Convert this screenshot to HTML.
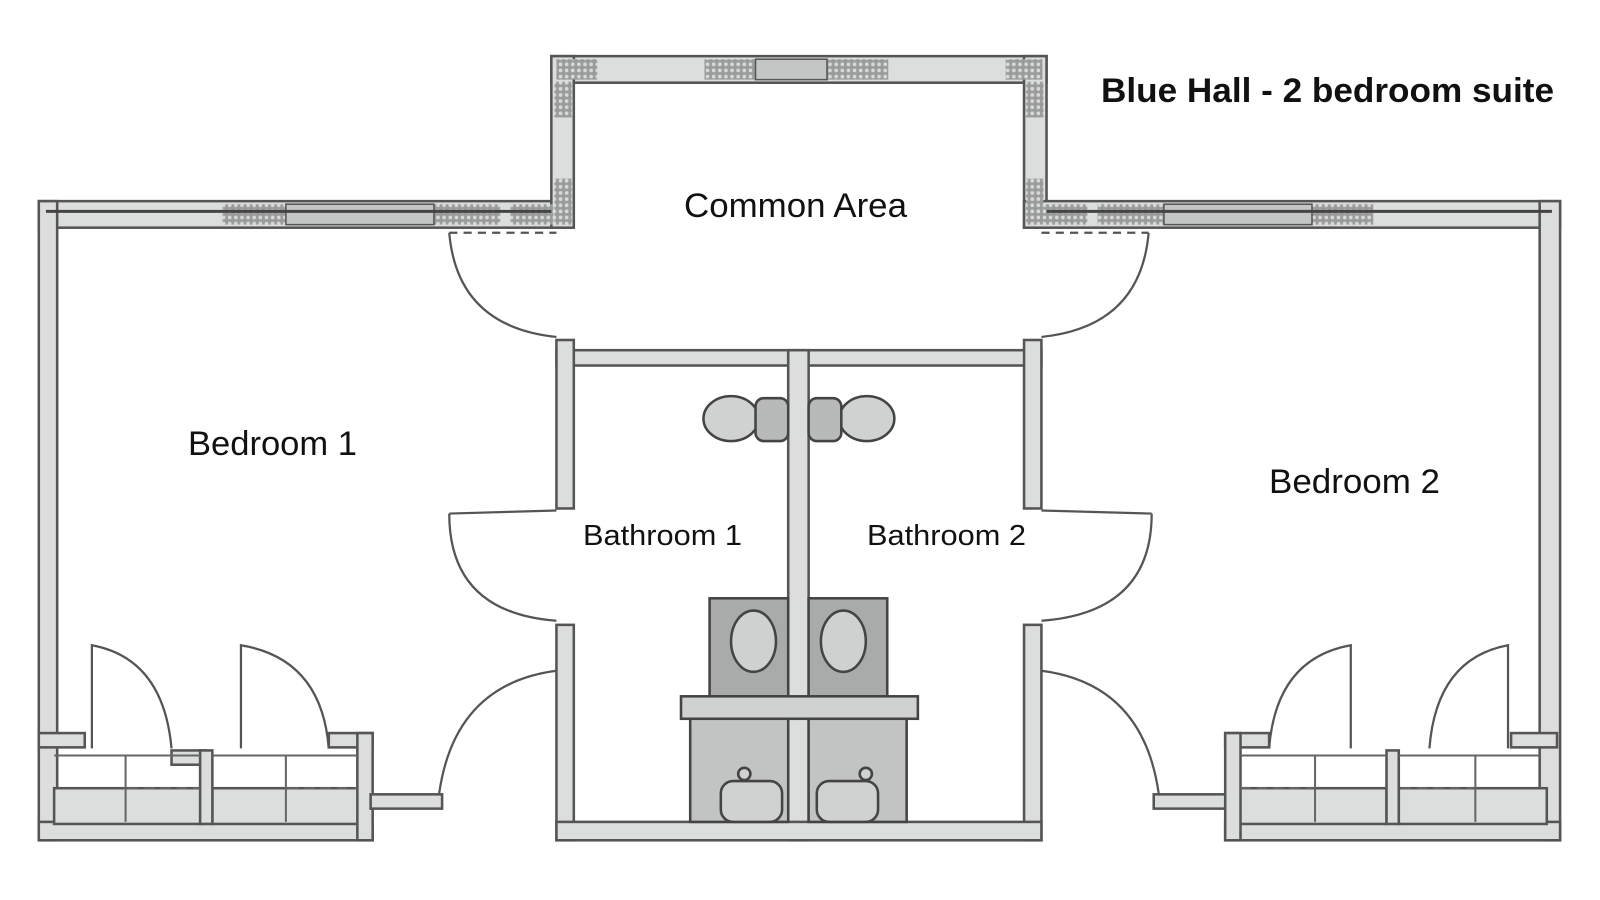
<!DOCTYPE html>
<html><head><meta charset="utf-8"><style>
html,body{margin:0;padding:0;background:#fff;width:1600px;height:900px;overflow:hidden}
svg{display:block}
text{font-family:"Liberation Sans",Arial,sans-serif;fill:#111}
</style></head><body>
<svg width="1600" height="900" viewBox="0 0 1600 900">
<defs>
<pattern id="hat" width="6" height="6" patternUnits="userSpaceOnUse">
<rect width="6" height="6" fill="#9a9c9c"/><circle cx="3" cy="3" r="1.8" fill="#d8d8d8"/>
</pattern>
</defs>
<g transform="scale(1.021)">
<g fill="#dcdede" stroke="#555" stroke-width="2.5">
<rect x="38" y="197" width="520" height="26"/>
<rect x="38" y="197" width="18" height="626"/>
<rect x="540" y="55" width="485" height="26"/>
<rect x="540" y="55" width="22" height="168"/>
<rect x="1003" y="55" width="22" height="168"/>
<rect x="1003" y="197" width="525" height="26"/>
<rect x="1508" y="197" width="20" height="626"/>
<rect x="545" y="343" width="475" height="15"/>
<rect x="545" y="333" width="17" height="165"/>
<rect x="545" y="612" width="17" height="211"/>
<rect x="1003" y="333" width="17" height="165"/>
<rect x="1003" y="612" width="17" height="211"/>
<rect x="772" y="343" width="20" height="480"/>
<rect x="545" y="805" width="475" height="18"/>
<rect x="38" y="805" width="327" height="18"/>
<rect x="38" y="718" width="45" height="14"/>
<rect x="168" y="735" width="33" height="14"/>
<rect x="322" y="718" width="43" height="14"/>
<rect x="53" y="772" width="145" height="35"/>
<rect x="208" y="772" width="145" height="35"/>
<rect x="196" y="735" width="12" height="72"/>
<rect x="350" y="718" width="15" height="105"/>
<rect x="363" y="778" width="70" height="14"/>
<rect x="1200" y="805" width="328" height="18"/>
<rect x="1480" y="718" width="45" height="14"/>
<rect x="1200" y="718" width="43" height="14"/>
<rect x="1213" y="772" width="145" height="35"/>
<rect x="1370" y="772" width="145" height="35"/>
<rect x="1358" y="735" width="12" height="72"/>
<rect x="1200" y="718" width="15" height="105"/>
<rect x="1130" y="778" width="70" height="14"/>
</g>
<g fill="url(#hat)" stroke="none">
<rect x="545" y="58" width="40" height="20"/>
<rect x="690" y="58" width="50" height="20"/>
<rect x="810" y="58" width="60" height="20"/>
<rect x="985" y="58" width="36" height="20"/>
<rect x="543" y="80" width="17" height="35"/>
<rect x="1005" y="80" width="17" height="35"/>
<rect x="543" y="175" width="17" height="45"/>
<rect x="1005" y="175" width="17" height="45"/>
<rect x="218" y="200" width="62" height="20"/>
<rect x="425" y="200" width="65" height="20"/>
<rect x="500" y="200" width="42" height="20"/>
<rect x="1022" y="200" width="43" height="20"/>
<rect x="1075" y="200" width="65" height="20"/>
<rect x="1285" y="200" width="60" height="20"/>
</g>
<g fill="#c4c6c6" stroke="#555" stroke-width="1.5">
<rect x="740" y="58" width="70" height="20"/>
<rect x="280" y="200" width="145" height="20"/>
<rect x="1140" y="200" width="145" height="20"/>
</g>
<g stroke="#666" stroke-width="2" fill="none">
<line x1="123" y1="740" x2="123" y2="805"/><line x1="280" y1="740" x2="280" y2="805"/>
<line x1="1288" y1="740" x2="1288" y2="805"/><line x1="1445" y1="740" x2="1445" y2="805"/>
<line x1="53" y1="740" x2="196" y2="740"/><line x1="208" y1="740" x2="350" y2="740"/>
<line x1="1215" y1="740" x2="1358" y2="740"/><line x1="1370" y1="740" x2="1508" y2="740"/>
<line x1="125" y1="772" x2="196" y2="772" stroke-dasharray="10,6"/>
<line x1="282" y1="772" x2="350" y2="772" stroke-dasharray="10,6"/>
<line x1="1215" y1="772" x2="1286" y2="772" stroke-dasharray="10,6"/>
<line x1="1372" y1="772" x2="1443" y2="772" stroke-dasharray="10,6"/>
<line x1="45" y1="207" x2="540" y2="207" stroke="#444" stroke-width="3"/>
<line x1="1025" y1="207" x2="1520" y2="207" stroke="#444" stroke-width="3"/>
</g>
<g stroke="#555" stroke-width="2.2" fill="none">
<path d="M440 228 Q448 320 545 330"/>
<path d="M440 228 L545 228" stroke-dasharray="8,6"/>
<path d="M1125 228 Q1117 320 1020 330"/>
<path d="M1020 228 L1125 228" stroke-dasharray="8,6"/>
<path d="M440 503 Q440 600 545 608"/><line x1="440" y1="503" x2="545" y2="500"/>
<path d="M1128 503 Q1128 600 1020 608"/><line x1="1128" y1="503" x2="1020" y2="500"/>
<path d="M430 778 Q445 670 545 657"/>
<path d="M1135 778 Q1120 670 1020 657"/>
<path d="M90 733 L90 632 Q160 645 168 733"/>
<path d="M236 733 L236 632 Q315 645 322 733"/>
<path d="M1477 733 L1477 632 Q1407 645 1400 733"/>
<path d="M1323 733 L1323 632 Q1250 645 1243 733"/>
</g>
<g fill="#d0d2d2" stroke="#444" stroke-width="2.5">
<ellipse cx="716" cy="410" rx="27" ry="22"/>
<rect x="740" y="390" width="32" height="42" rx="8" fill="#b8baba"/>
<ellipse cx="849" cy="410" rx="27" ry="22"/>
<rect x="792" y="390" width="32" height="42" rx="8" fill="#b8baba"/>
<rect x="695" y="586" width="77" height="96" fill="#a9abab"/>
<rect x="792" y="586" width="77" height="96" fill="#a9abab"/>
<ellipse cx="738" cy="628" rx="22" ry="30" fill="#cfd1d1"/>
<ellipse cx="826" cy="628" rx="22" ry="30" fill="#cfd1d1"/>
<rect x="667" y="682" width="232" height="22"/>
<rect x="676" y="704" width="96" height="101" fill="#c2c4c4"/>
<rect x="792" y="704" width="96" height="101" fill="#c2c4c4"/>
<rect x="706" y="765" width="60" height="40" rx="12"/>
<rect x="800" y="765" width="60" height="40" rx="12"/>
<circle cx="729" cy="758" r="6"/><circle cx="848" cy="758" r="6"/>
</g>
</g>
<text x="1101" y="102" font-size="34" font-weight="bold" textLength="453" lengthAdjust="spacingAndGlyphs">Blue Hall - 2 bedroom suite</text>
<text x="684" y="217" font-size="34" textLength="223" lengthAdjust="spacingAndGlyphs">Common Area</text>
<text x="188" y="455" font-size="34" textLength="169" lengthAdjust="spacingAndGlyphs">Bedroom 1</text>
<text x="1269" y="493" font-size="34" textLength="171" lengthAdjust="spacingAndGlyphs">Bedroom 2</text>
<text x="583" y="545" font-size="29" textLength="159" lengthAdjust="spacingAndGlyphs">Bathroom 1</text>
<text x="867" y="545" font-size="29" textLength="159" lengthAdjust="spacingAndGlyphs">Bathroom 2</text>
</svg>
</body></html>
